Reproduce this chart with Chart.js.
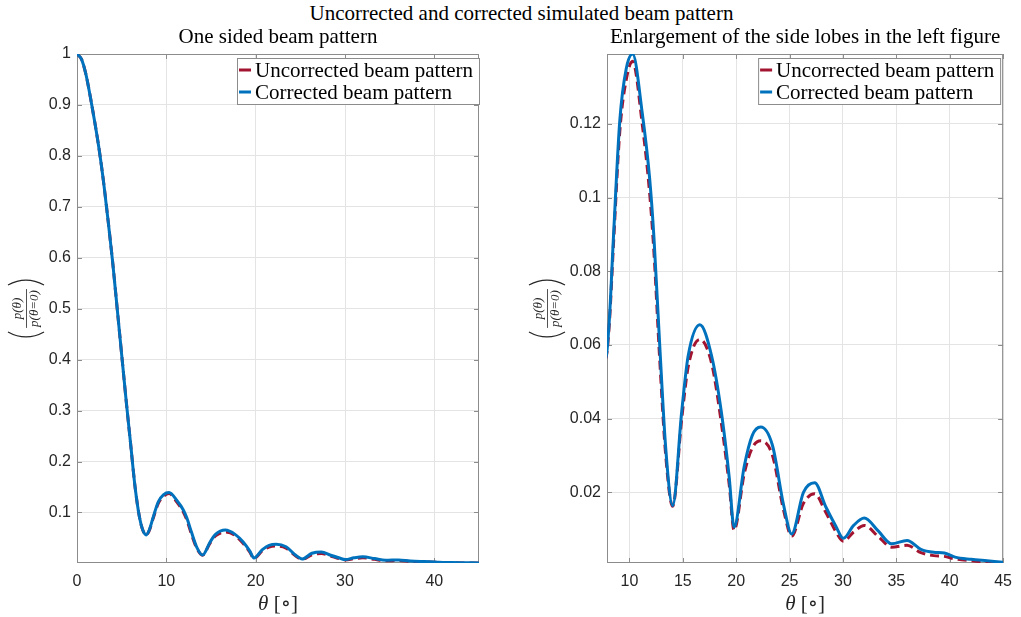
<!DOCTYPE html>
<html>
<head>
<meta charset="utf-8">
<script src="https://cdn.jsdelivr.net/npm/chart.js@4.4.1/dist/chart.umd.min.js"></script>
<style>
  body { margin: 0; background: #fff; width: 1021px; height: 617px; overflow: hidden; position: relative; }
  #suptitle { position: absolute; left: 11px; top: 1px; width: 1021px; text-align: center;
              font: 21px "Liberation Serif", serif; color: #000; }
  .panel { position: absolute; top: 0; height: 617px; }
</style>
</head>
<body>
<div id="suptitle">Uncorrected and corrected simulated beam pattern</div>
<div class="panel" style="left:0;width:510px"><canvas id="leftChart"></canvas></div>
<div class="panel" style="left:510px;width:511px"><canvas id="rightChart"></canvas></div>
<script>
// angle in degrees, shared by both series
const thetaDeg = [0, 0.5, 1, 1.5, 2, 2.5, 3, 3.5, 4, 4.5, 5, 5.5, 6, 6.5, 7, 7.35, 7.75,
  8.1, 8.5, 9.1, 9.7, 10.3, 11.2, 11.9, 12.3, 12.8, 13.4, 14.05, 14.9, 15.5, 16.6, 17.7,
  18.6, 19.35, 19.8, 20.75, 21.5, 22.3, 23.4, 24.45, 25.2, 26.3, 27.35, 28.4, 29.3, 30.05,
  31, 32, 33.3, 34.55, 36, 37.3, 38.5, 39.5, 40.5, 42, 43.5, 45];

const uncorrected = [1, 0.99, 0.96, 0.915, 0.865, 0.81, 0.745, 0.67, 0.59, 0.5, 0.41,
  0.32, 0.235, 0.15, 0.09, 0.066, 0.056,
  0.065, 0.087, 0.118, 0.132, 0.137, 0.12, 0.101, 0.085, 0.058, 0.03, 0.0162, 0.04, 0.054,
  0.0615, 0.055, 0.039, 0.022, 0.0097, 0.025, 0.032, 0.034, 0.03, 0.015, 0.0081, 0.017,
  0.0196, 0.0145, 0.0095, 0.0067, 0.0092, 0.011, 0.008, 0.0051, 0.0056, 0.0036, 0.0028,
  0.0026, 0.0019, 0.0014, 0.001, 0.0008];

const corrected = [1, 0.99, 0.96, 0.915, 0.865, 0.81, 0.745, 0.67, 0.59, 0.5, 0.41,
  0.32, 0.235, 0.15, 0.09, 0.066, 0.056,
  0.066, 0.089, 0.121, 0.135, 0.139, 0.123, 0.105, 0.089, 0.062, 0.032, 0.0164, 0.042, 0.057,
  0.0655, 0.057, 0.042, 0.024, 0.0105, 0.027, 0.0354, 0.0377, 0.0327, 0.0164, 0.0087, 0.02,
  0.0226, 0.016, 0.011, 0.0075, 0.011, 0.013, 0.0095, 0.006, 0.0069, 0.0045, 0.0037,
  0.0035, 0.0024, 0.0018, 0.0014, 0.001];

const leftXTicks = [0, 10, 20, 30, 40];
const leftYTicks = [0.1, 0.2, 0.3, 0.4, 0.5, 0.6, 0.7, 0.8, 0.9, 1];
const rightXTicks = [10, 15, 20, 25, 30, 35, 40, 45];
const rightYTicks = [0.02, 0.04, 0.06, 0.08, 0.1, 0.12];

const AXIS_GREY = '#8c8c8c';
const TEXT_DARK = '#262626';
const SERIF = '"Liberation Serif", "DejaVu Serif", serif';
const SERIF_SIZE = 21;

// box round the axes with inward tick marks on all four sides
const axesBox = {
  id: 'axesBox',
  beforeDatasetsDraw(chart) {
    const { ctx, chartArea: a, scales: { x, y } } = chart;
    ctx.save();
    ctx.strokeStyle = AXIS_GREY;
    ctx.lineWidth = 1;
    ctx.beginPath();
    x.ticks.forEach(t => {
      const px = Math.round(x.getPixelForValue(t.value)) + 0.5;
      ctx.moveTo(px, a.bottom); ctx.lineTo(px, a.bottom - 5);
      ctx.moveTo(px, a.top); ctx.lineTo(px, a.top + 5);
    });
    y.ticks.forEach(t => {
      const py = Math.round(y.getPixelForValue(t.value)) + 0.5;
      ctx.moveTo(a.left, py); ctx.lineTo(a.left + 5, py);
      ctx.moveTo(a.right, py); ctx.lineTo(a.right - 5, py);
    });
    ctx.stroke();
    ctx.strokeRect(a.left + 0.5, a.top + 0.5, a.right - a.left - 1, a.bottom - a.top - 1);
    ctx.restore();
  }
};

// panel title, legend box in the top right corner, axis labels
const extras = {
  id: 'extras',
  afterDraw(chart, args, opts) {
    const { ctx, chartArea: a } = chart;
    const cx = (a.left + a.right) / 2;
    ctx.save();

    // panel title centred over the axes
    ctx.font = SERIF_SIZE + 'px ' + SERIF;
    ctx.fillStyle = '#000';
    ctx.textAlign = 'center';
    ctx.textBaseline = 'middle';
    ctx.fillText(opts.title, cx, 37);

    // legend
    const sets = chart.data.datasets;
    const textW = Math.max(...sets.map(d => ctx.measureText(d.label).width));
    const w = Math.round(2 + 13 + 4 + textW + 6);
    const h = 47;
    const x0 = a.right - w + opts.legendShift;
    const y0 = a.top + 4;
    ctx.fillStyle = '#fff';
    ctx.fillRect(x0, y0, w, h);
    ctx.strokeStyle = AXIS_GREY;
    ctx.lineWidth = 1;
    ctx.strokeRect(x0 + 0.5, y0 + 0.5, w - 1, h - 1);
    sets.forEach((d, i) => {
      const cy = y0 + 12 + i * 22;
      ctx.strokeStyle = d.borderColor;
      ctx.lineWidth = 3;
      ctx.beginPath();
      ctx.moveTo(x0 + 2, cy); ctx.lineTo(x0 + 14, cy);
      ctx.stroke();
      ctx.fillStyle = '#000';
      ctx.textAlign = 'left';
      ctx.fillText(d.label, x0 + 18, cy + 1);
    });

    // x label: italic theta then [degree]
    ctx.fillStyle = TEXT_DARK;
    const t1 = 'θ';
    const t2 = ' [∘]';
    ctx.font = SERIF_SIZE + 'px ' + SERIF;
    const w2 = ctx.measureText(t2).width;
    ctx.font = 'italic ' + SERIF_SIZE + 'px ' + SERIF;
    const w1 = ctx.measureText(t1).width;
    const sx = cx - (w1 + w2) / 2;
    ctx.textAlign = 'left';
    ctx.fillText(t1, sx, 604);
    ctx.font = SERIF_SIZE + 'px ' + SERIF;
    ctx.fillText(t2, sx + w1, 604);

    // y label: (p(θ) / p(θ=0)) rotated
    const lx = a.left - opts.ylabelOffset;
    const ly = (a.top + a.bottom) / 2;
    ctx.translate(lx, ly);
    ctx.rotate(-Math.PI / 2);
    ctx.font = 'italic 13px ' + SERIF;
    ctx.textAlign = 'center';
    ctx.fillText('p(θ)', 0, -8);
    ctx.fillText('p(θ=0)', 0, 9);
    const fw = ctx.measureText('p(θ=0)').width;
    ctx.strokeStyle = TEXT_DARK;
    ctx.lineWidth = 0.8;
    ctx.beginPath();
    ctx.moveTo(-fw / 2 - 1, 0.5); ctx.lineTo(fw / 2 + 1, 0.5);
    ctx.stroke();
    const px = fw / 2 + 11;
    ctx.lineWidth = 1.2;
    ctx.beginPath();
    ctx.moveTo(-px + 6, -18); ctx.quadraticCurveTo(-px - 4, 0, -px + 6, 18);
    ctx.moveTo(px - 6, -18); ctx.quadraticCurveTo(px + 4, 0, px - 6, 18);
    ctx.stroke();
    ctx.restore();
  }
};

function fmt(v) {
  return String(Math.round(v * 1000) / 1000);
}

function makeChart(id, cfg) {
  return new Chart(document.getElementById(id), {
    type: 'line',
    data: {
      labels: thetaDeg,
      datasets: [{
        label: 'Uncorrected beam pattern',
        data: thetaDeg.map((t, i) => ({ x: t, y: uncorrected[i] })),
        borderColor: '#A2142F',
        borderWidth: 3,
        borderDash: [9, 5],
        pointRadius: 0,
        cubicInterpolationMode: 'monotone',
        order: 1,
      }, {
        label: 'Corrected beam pattern',
        data: thetaDeg.map((t, i) => ({ x: t, y: corrected[i] })),
        borderColor: '#0072BD',
        borderWidth: 3,
        pointRadius: 0,
        cubicInterpolationMode: 'monotone',
        order: 0,
      }],
    },
    options: {
      responsive: true,
      maintainAspectRatio: false,
      animation: false,
      events: [],
      layout: { padding: { left: 0, right: cfg.rightPad, top: 54, bottom: 0 } },
      plugins: {
        legend: { display: false },
        tooltip: { enabled: false },
        title: { display: false },
        extras: { title: cfg.title, ylabelOffset: cfg.ylabelOffset, legendShift: cfg.legendShift },
      },
      scales: {
        x: {
          type: 'linear',
          min: cfg.xMin,
          max: 45,
          afterBuildTicks: s => { s.ticks = cfg.xTicks.map(v => ({ value: v })); },
          afterFit: s => { s.height = 54; },
          grid: { color: '#e4e4e4', drawTicks: false },
          border: { display: false },
          ticks: { color: TEXT_DARK, padding: 9, maxRotation: 0,
                   font: { family: '"Liberation Sans", Arial, sans-serif', size: 16 },
                   callback: v => fmt(v) },
        },
        y: {
          min: cfg.yMin,
          max: cfg.yMax,
          afterBuildTicks: s => { s.ticks = cfg.yTicks.map(v => ({ value: v })); },
          afterFit: s => { s.width = cfg.yWidth; },
          grid: { color: '#e4e4e4', drawTicks: false },
          border: { display: false },
          ticks: { color: TEXT_DARK, padding: 6,
                   font: { family: '"Liberation Sans", Arial, sans-serif', size: 16 },
                   callback: v => fmt(v) },
        },
      },
    },
    plugins: [axesBox, extras],
  });
}

const dataMin = Math.min(...uncorrected);
const sideLobeMax = Math.max(...corrected.filter((v, i) => thetaDeg[i] >= 7.9));

makeChart('leftChart', {
  title: 'One sided beam pattern',
  xMin: 0, xTicks: leftXTicks,
  yMin: dataMin, yMax: 1, yTicks: leftYTicks,
  yWidth: 77, rightPad: 31, ylabelOffset: 51, legendShift: 1,
});

makeChart('rightChart', {
  title: 'Enlargement of the side lobes in the left figure',
  xMin: 7.9, xTicks: rightXTicks,
  yMin: dataMin, yMax: sideLobeMax, yTicks: rightYTicks,
  yWidth: 97, rightPad: 12, ylabelOffset: 60, legendShift: -2,
});
</script>
</body>
</html>
